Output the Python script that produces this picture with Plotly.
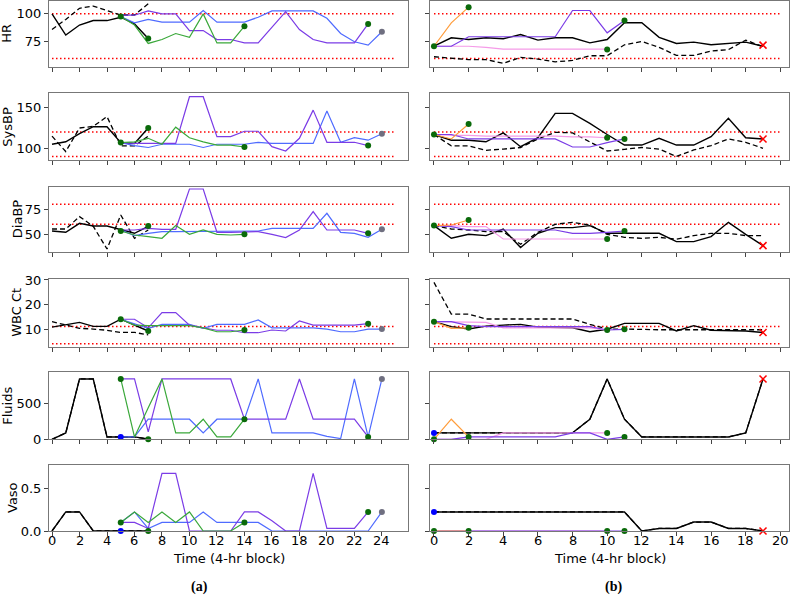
import plotly.graph_objects as go

W, H = 790, 596

variables = ["HR", "SysBP", "DiaBP", "WBC Ct", "Fluids", "Vaso"]

# ---------------- patient (a) ----------------
a_black_t = list(range(0, 8))
a_black = {
    "HR": [100, 81, 90, 94, 94, 97, 91, 78],
    "SysBP": [105, 108, 118, 126.6, 126.6, 107, 106, 125],
    "DiaBP": [53.3, 52, 61, 58.3, 58.3, 55, 51, 58],
    "WBC Ct": [10.8, 11.6, 12.7, 11.1, 11.1, 14, 11.6, 9.2],
    "Fluids": [0, 89, 841, 841, 33, 33, 33, 5],
    "Vaso": [0, 0.223, 0.223, 0, 0, 0, 0, 0],
}
a_dashed = {
    "HR": [86, 95, 105, 107, 103, 99, 99, 109],
    "SysBP": [115, 96, 125, 127, 139, 103, 103, 115],
    "DiaBP": [55.3, 55.3, 67.7, 58, 35.3, 69.3, 46, 54.3],
    "WBC Ct": [13, 11.6, 10.3, 10, 9.5, 8.6, 8.6, 7.6],
    "Fluids": [0, 89, 841, 841, 33, 33, 33, 5],
    "Vaso": [0, 0.223, 0.223, 0, 0, 0, 0, 0],
}
a_purple_t = list(range(5, 24))
a_purple = {
    "HR": [98.8, 98.8, 102.7, 100, 100, 85, 85, 77, 77, 74, 74, 88, 102, 86, 77, 74, 74, 74, 91],
    "SysBP": [107, 106, 106, 106, 106, 163.5, 163.5, 114.3, 114.3, 121, 121, 102, 96.7, 112.3, 147, 107.4, 107.4, 107.4, 103.3],
    "DiaBP": [54.3, 54.3, 56, 55, 55, 95.3, 95.3, 52, 52, 52, 52.7, 50, 46.7, 54.3, 72.7, 54.3, 54.3, 54.3, 51],
    "WBC Ct": [14, 14, 10.5, 16.7, 16.7, 11.6, 10.5, 9.5, 9.5, 8.5, 8.5, 9.6, 9.2, 13.3, 11.6, 11.6, 11.6, 11.6, 12.2],
    "Fluids": [841, 841, 103, 841, 841, 841, 841, 841, 841, 280, 280, 280, 280, 841, 280, 280, 280, 280, 33],
    "Vaso": [0.1, 0.1, 0.03, 0.676, 0.676, 0, 0, 0, 0, 0.223, 0.223, 0.12, 0, 0, 0.676, 0.03, 0.03, 0.03, 0.223],
}
a_blue_t = list(range(5, 25))
a_blue = {
    "HR": [97.6, 92, 95, 92.6, 92.6, 92.6, 103, 92.6, 92.6, 92.6, 97, 102.7, 102.7, 102.7, 102.7, 96, 82.4, 75, 72, 84],
    "SysBP": [107, 103.3, 101, 105, 105, 105, 101, 105, 105, 105, 107.4, 106, 106, 106, 106, 146, 107.4, 113, 110, 118],
    "DiaBP": [54.3, 48.7, 51, 52.7, 52.7, 52.7, 52.7, 52.7, 52.7, 52.7, 53.3, 56, 56, 56, 56, 71, 52, 51, 47, 55],
    "WBC Ct": [14, 12.3, 10.3, 11.9, 11.9, 11.9, 10.3, 11.9, 11.9, 11.9, 13.7, 10.5, 10.5, 10.5, 10.5, 10, 8.9, 8.9, 10, 10],
    "Fluids": [33, 33, 280, 280, 280, 280, 89, 280, 280, 280, 841, 89, 89, 89, 89, 42, 9, 841, 33, 841],
    "Vaso": [0.1, 0.223, 0.03, 0.1, 0.1, 0.1, 0.223, 0.1, 0.1, 0.1, 0.1, 0, 0, 0, 0, 0, 0, 0, 0, 0.223],
}
a_green_t = list(range(5, 15))
a_green = {
    "HR": [97.6, 90, 73.5, 77, 82.4, 79, 100, 74, 74, 89],
    "SysBP": [107, 108, 112.3, 105, 126, 113, 108, 104, 104, 101.6],
    "DiaBP": [53.3, 49.3, 47.7, 46, 58.7, 50, 54.3, 50, 49.3, 50],
    "WBC Ct": [14, 11.6, 11.4, 11.4, 11.4, 11.4, 10.5, 8.9, 8.9, 9.6],
    "Fluids": [841, 33, 440, 841, 89, 89, 280, 33, 33, 280],
    "Vaso": [0.1, 0.223, 0.1, 0.223, 0.1, 0.223, 0, 0, 0, 0.1],
}
a_dot_t = [5, 7, 14, 23]
a_dots = {
    "HR": [97.6, 78, 89, 91],
    "SysBP": [107, 125, 101.6, 103.3],
    "DiaBP": [53.3, 58.3, 50, 51],
    "WBC Ct": [14, 9.2, 9.6, 12.2],
    "Fluids": [841, 0, 280, 33],
    "Vaso": [0.1, 0, 0.1, 0.223],
}
a_gray_t = 24
a_gray = {"HR": 84, "SysBP": 118, "DiaBP": 55, "WBC Ct": 10, "Fluids": 841, "Vaso": 0.223}
a_bluedot_t = 5
a_bluedot = {"Fluids": 33, "Vaso": 0}

# ---------------- patient (b) ----------------
b_black_t = list(range(0, 20))
b_black = {
    "HR": [71, 78.6, 77, 78.6, 77.7, 81.5, 76.5, 78.6, 78.6, 74, 77, 92, 92, 79, 73.5, 74.7, 72.3, 73.5, 74.7, 71],
    "SysBP": [117, 110, 110, 108, 119, 102, 113, 143, 143, 130.7, 117, 104, 104, 112.3, 104, 104, 114.3, 137, 113, 111.5],
    "DiaBP": [58.7, 46, 50, 48.7, 55.3, 36.7, 51, 56.7, 56.7, 58.7, 51, 51, 51, 51, 42.7, 42.7, 47.7, 62, 50, 38.7],
    "WBC Ct": [13, 11, 10, 11.2, 11.6, 11.9, 10.8, 10.8, 10.5, 8.9, 9.9, 12.3, 12.3, 12.3, 9.2, 11.4, 9.5, 9.5, 9.2, 8.6],
    "Fluids": [89, 89, 89, 89, 89, 89, 89, 89, 89, 280, 841, 280, 33, 33, 33, 33, 33, 33, 89, 841],
    "Vaso": [0.223] * 12 + [0, 0.03, 0.03, 0.105, 0.105, 0.03, 0.03, 0],
}
b_dashed = {
    "HR": [61.6, 60.4, 59, 59, 55.7, 61, 59.5, 57, 58.3, 62.5, 62.5, 72.3, 75.3, 70, 62.8, 62.8, 66.7, 68, 76.5, 70.5],
    "SysBP": [117, 103, 103, 97.5, 99, 101, 111.5, 119.7, 119, 108, 96.7, 98.8, 101, 99, 90, 98, 103.3, 111.5, 107.4, 100],
    "DiaBP": [58.7, 55.3, 54.3, 52.7, 52.7, 40, 52, 60, 62, 59.3, 50, 47, 46, 47, 45, 48.7, 51, 51, 48.7, 48.7],
    "WBC Ct": [29, 16.1, 16.1, 14.1, 14.1, 14.1, 14.1, 14.1, 14.1, 11.9, 10, 10, 9.7, 9.7, 9.7, 9.7, 9.7, 9.7, 9.7, 9.7],
    "Fluids": [89, 89, 89, 89, 89, 89, 89, 89, 89, 280, 841, 280, 33, 33, 33, 33, 33, 33, 89, 841],
    "Vaso": [0.223] * 12 + [0, 0.03, 0.03, 0.105, 0.105, 0.03, 0.03, 0],
}
b_orange_t = [0, 1, 2]
b_orange = {
    "HR": [71, 92, 106],
    "SysBP": [117, 111.5, 130],
    "DiaBP": [58.7, 59.3, 64.3],
    "WBC Ct": [13, 10.3, 10.5],
    "Fluids": [0, 280, 33],
    "Vaso": [0, 0, 0],
}
b_purple_t = list(range(0, 12))
b_purple = {
    "HR": [71, 71, 79.5, 79.5, 79.5, 79.5, 79.5, 79.5, 103, 103, 83, 94],
    "SysBP": [117, 117, 111.5, 111.5, 111.5, 111.5, 111.5, 111.5, 101.6, 101.6, 107, 111.5],
    "DiaBP": [58.7, 57.7, 54.3, 54.3, 54.3, 54.3, 54.3, 54.3, 51, 51, 52, 53.3],
    "WBC Ct": [13, 13, 11.4, 11, 11, 11, 11, 11, 11, 11, 9.6, 9.9],
    "Fluids": [0, 0, 33, 33, 33, 33, 33, 33, 89, 89, 0, 33],
    "Vaso": [0] * 12,
}
b_pink_t = list(range(0, 11))
b_pink = {
    "HR": [71, 71, 71, 70, 68.5, 68.5, 68.5, 68.5, 68.5, 68.5, 68.5],
    "SysBP": [117, 116, 116, 115, 115, 115, 115, 115, 114, 114, 113],
    "DiaBP": [58.7, 58.7, 57.7, 57.7, 45.3, 45.3, 45.3, 45.3, 45.3, 45.3, 45.3],
    "WBC Ct": [13, 13, 12.7, 12.7, 10.5, 10.5, 10.5, 10.5, 10.5, 10.5, 9.6],
    "Fluids": [0, 0, 0, 0, 89, 89, 89, 89, 89, 89, 89],
    "Vaso": [0] * 11,
}
b_dot_t = [0, 2, 10, 11]
b_dots = {
    "HR": [71, 106, 68, 94],
    "SysBP": [117, 130, 113, 111.5],
    "DiaBP": [58.7, 64.3, 45.3, 53.3],
    "WBC Ct": [13, 10.5, 9.6, 9.9],
    "Fluids": [0, 33, 89, 33],
    "Vaso": [0, 0, 0, 0],
}
b_x_t = 19
b_x = {"HR": 72, "SysBP": 111.5, "DiaBP": 38.7, "WBC Ct": 8.6, "Fluids": 841, "Vaso": 0}
b_bluedot_t = 0
b_bluedot = {"Fluids": 89, "Vaso": 0.223}

# normal ranges (red dotted) and axis settings
normal = {"HR": [60, 100], "SysBP": [90, 120], "DiaBP": [60, 80], "WBC Ct": [4, 11], "Fluids": [], "Vaso": []}
a_len, b_len = 25, 20
yranges = {"HR": [52.4, 111.8], "SysBP": [85.6, 167.7], "DiaBP": [32.6, 97.6],
           "WBC Ct": [2.8, 30.4], "Fluids": [0, 934], "Vaso": [0, 0.773]}
yticks = {"HR": [75, 100], "SysBP": [100, 150], "DiaBP": [50, 75], "WBC Ct": [10, 20, 30],
          "Fluids": [0, 500], "Vaso": [0, 0.5]}
yticktext = {"Vaso": ["0.0", "0.5"]}
a_xticks = list(range(0, 25, 2))
b_xticks = list(range(0, 21, 2))
ylabel_x = {"HR": 7, "SysBP": 8, "DiaBP": 17, "WBC Ct": 17, "Fluids": 8, "Vaso": 12}

tops = [0.7, 93.3, 186.7, 279, 372.3, 465]
bots = [67, 160, 251.7, 346.7, 439.3, 531]
left_px = (49, 408)
right_px = (430, 789)

C_BLUE = "#4f6bff"
C_PURPLE = "#7b3ce6"
C_GREEN = "#3aa83a"
C_ORANGE = "#ff9d3c"
C_PINK = "#f59be8"
C_DOT = "#0a6a0a"
FONT = "DejaVu Sans"
DASH = "5px,3px"
DOT = "1.5px,2.5px"

fig = go.Figure()
layout = {}
annotations = []


def line(fig, xs, ys, xa, ya, color, width=1.3, dash="solid"):
    fig.add_trace(go.Scatter(x=xs, y=ys, xaxis=xa, yaxis=ya, mode="lines",
                             line=dict(color=color, width=width, dash=dash),
                             showlegend=False, hoverinfo="skip"))


def dots(fig, xs, ys, xa, ya, color, symbol="circle", size=6):
    mk = dict(color=color, size=size, symbol=symbol)
    if symbol.startswith("x"):
        mk["line"] = dict(color=color, width=1.5)
    fig.add_trace(go.Scatter(x=xs, y=ys, xaxis=xa, yaxis=ya, mode="markers",
                             marker=mk, showlegend=False, hoverinfo="skip",
                             cliponaxis=False))


for i, var in enumerate(variables):
    for side in (0, 1):
        n = 2 * i + side + 1
        xa = "x" if n == 1 else f"x{n}"
        ya = "y" if n == 1 else f"y{n}"
        L = a_len if side == 0 else b_len
        for v in normal[var]:
            line(fig, [0, L], [v, v], xa, ya, "red", 1.5, DOT)
        if side == 0:
            line(fig, a_black_t, a_dashed[var], xa, ya, "black", 1.3, DASH)
            line(fig, a_black_t, a_black[var], xa, ya, "black", 1.4)
            line(fig, a_blue_t, a_blue[var], xa, ya, C_BLUE, 1.2)
            line(fig, a_purple_t, a_purple[var], xa, ya, C_PURPLE, 1.2)
            line(fig, a_green_t, a_green[var], xa, ya, C_GREEN, 1.2)
            if var in a_bluedot:
                dots(fig, [a_bluedot_t], [a_bluedot[var]], xa, ya, "blue")
            dots(fig, a_dot_t, a_dots[var], xa, ya, C_DOT)
            dots(fig, [a_gray_t], [a_gray[var]], xa, ya, "#6f6f80")
            xr = [-0.22, 25.9]
            dom = left_px
            xt = a_xticks
        else:
            line(fig, b_black_t, b_dashed[var], xa, ya, "black", 1.3, DASH)
            line(fig, b_black_t, b_black[var], xa, ya, "black", 1.4)
            line(fig, b_pink_t, b_pink[var], xa, ya, C_PINK, 1.2)
            line(fig, b_purple_t, b_purple[var], xa, ya, C_PURPLE, 1.2)
            line(fig, b_orange_t, b_orange[var], xa, ya, C_ORANGE, 1.2)
            if var in b_bluedot:
                dots(fig, [b_bluedot_t], [b_bluedot[var]], xa, ya, "blue")
            dots(fig, b_dot_t, b_dots[var], xa, ya, C_DOT)
            dots(fig, [b_x_t], [b_x[var]], xa, ya, "red", "x-thin", 7)
            xr = [-0.23, 20.5]
            dom = right_px
            xt = b_xticks

        bottom = (i == len(variables) - 1)
        if bottom:
            for t in xt:
                annotations.append(dict(text=str(t), x=t, xref=xa, y=1 - 540 / H, yref="paper",
                                        showarrow=False, xanchor="center", yanchor="middle",
                                        font=dict(family=FONT, size=13, color="black")))
        xkey = "xaxis" if n == 1 else f"xaxis{n}"
        ykey = "yaxis" if n == 1 else f"yaxis{n}"
        layout[xkey] = dict(domain=[dom[0] / W, dom[1] / W], anchor=ya, range=xr,
                            automargin=False,
                            tickmode="array", tickvals=xt, showticklabels=False,
                            ticks="outside", ticklen=4, tickcolor="#444", showline=True,
                            mirror=True, linecolor="#777", linewidth=1, showgrid=False,
                            zeroline=False)
        yax = dict(domain=[1 - bots[i] / H, 1 - tops[i] / H], anchor=xa, range=yranges[var],
                   automargin=False,
                   tickmode="array", tickvals=yticks[var], showticklabels=(side == 0),
                   ticks="outside", ticklen=4, tickcolor="#444", showline=True, mirror=True,
                   linecolor="#777", linewidth=1, showgrid=False, zeroline=False,
                   tickfont=dict(family=FONT, size=13, color="black"))
        if var in yticktext:
            yax["ticktext"] = yticktext[var]
        layout[ykey] = yax

    annotations.append(dict(text=var, x=ylabel_x[var] / W, y=1 - (tops[i] + bots[i]) / 2 / H,
                            xref="paper", yref="paper", showarrow=False, textangle=-90,
                            xanchor="center", yanchor="middle",
                            font=dict(family=FONT, size=13, color="black")))

for cx in ((left_px[0] + left_px[1]) / 2, (right_px[0] + right_px[1]) / 2):
    annotations.append(dict(text="Time (4-hr block)", x=cx / W, y=1 - 558 / H, xref="paper",
                            yref="paper", showarrow=False, xanchor="center", yanchor="middle",
                            font=dict(family=FONT, size=13, color="black")))
for txt, cx in (("(a)", 199), ("(b)", 613)):
    annotations.append(dict(text=f"<b>{txt}</b>", x=cx / W, y=1 - 587 / H, xref="paper",
                            yref="paper", showarrow=False, xanchor="center", yanchor="middle",
                            font=dict(family="Liberation Serif", size=14, color="black")))

fig.update_layout(width=W, height=H, margin=dict(l=0, r=0, t=0, b=0, autoexpand=False),
                  template="none",
                  paper_bgcolor="white", plot_bgcolor="white",
                  annotations=annotations, showlegend=False, **layout)

fig.write_html("out.html", config={"displayModeBar": False},
               post_script="document.body.style.margin='0px';")
